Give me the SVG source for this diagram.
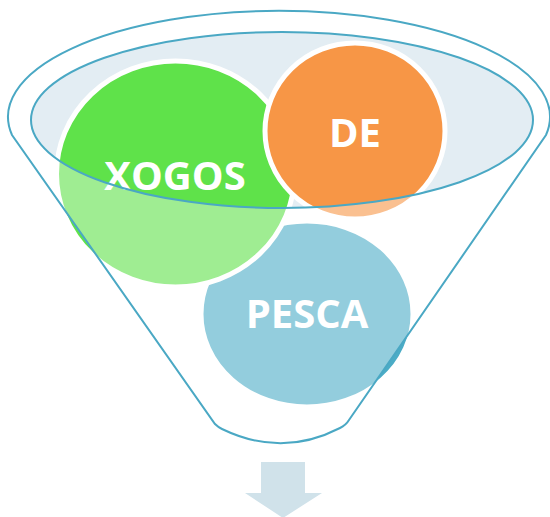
<svg xmlns="http://www.w3.org/2000/svg" width="550" height="517" viewBox="0 0 550 517">
<style>
.node{stroke:#fff;stroke-width:5}
.lbl{font-family:"Open Sans","Liberation Sans",sans-serif;font-weight:bold;font-size:40px;fill:#fff;text-anchor:middle}
.line{fill:none;stroke:#4AA8C4;stroke-width:2}
</style>
<rect width="550" height="517" fill="#fff"/>
<ellipse id="mouth-fill" cx="282" cy="120" rx="251" ry="88" fill="#E3EDF3"/>
<g id="node-pesca">
<ellipse class="node" cx="307" cy="314" rx="106" ry="93" fill="#4BACC6"/>
<text class="lbl" x="307" y="328">PESCA</text>
</g>
<g id="node-xogos">
<ellipse class="node" cx="175.5" cy="174" rx="119" ry="113" fill="#5FE24A"/>
<text class="lbl" x="175" y="190">XOGOS</text>
</g>
<g id="node-de">
<ellipse class="node" cx="355" cy="131" rx="90" ry="88" fill="#F79646"/>
<text class="lbl" x="355" y="147">DE</text>
</g>
<g id="funnel">
<path fill="#fff" fill-opacity="0.4" fill-rule="evenodd" d="M12,135 A271,106 0 1,1 546,135 L349,420 Q346,425 340,428 Q282,458 222,429 Q218,427 215,424 Z M31,120 A251,88 0 1,0 533,120 A251,88 0 1,0 31,120 Z"/>
<path class="line" d="M12,135 A271,106 0 1,1 546,135 L349,420 Q346,425 340,428 Q282,458 222,429 Q218,427 215,424 Z"/>
<ellipse class="line" cx="282" cy="120" rx="251" ry="88"/>
</g>
<g id="connectors">
<path d="M261,462 L305,462 L305,493 L322,493 L283,518 L245,493 L261,493 Z" fill="#D0E2EA"/>
</g>
</svg>
